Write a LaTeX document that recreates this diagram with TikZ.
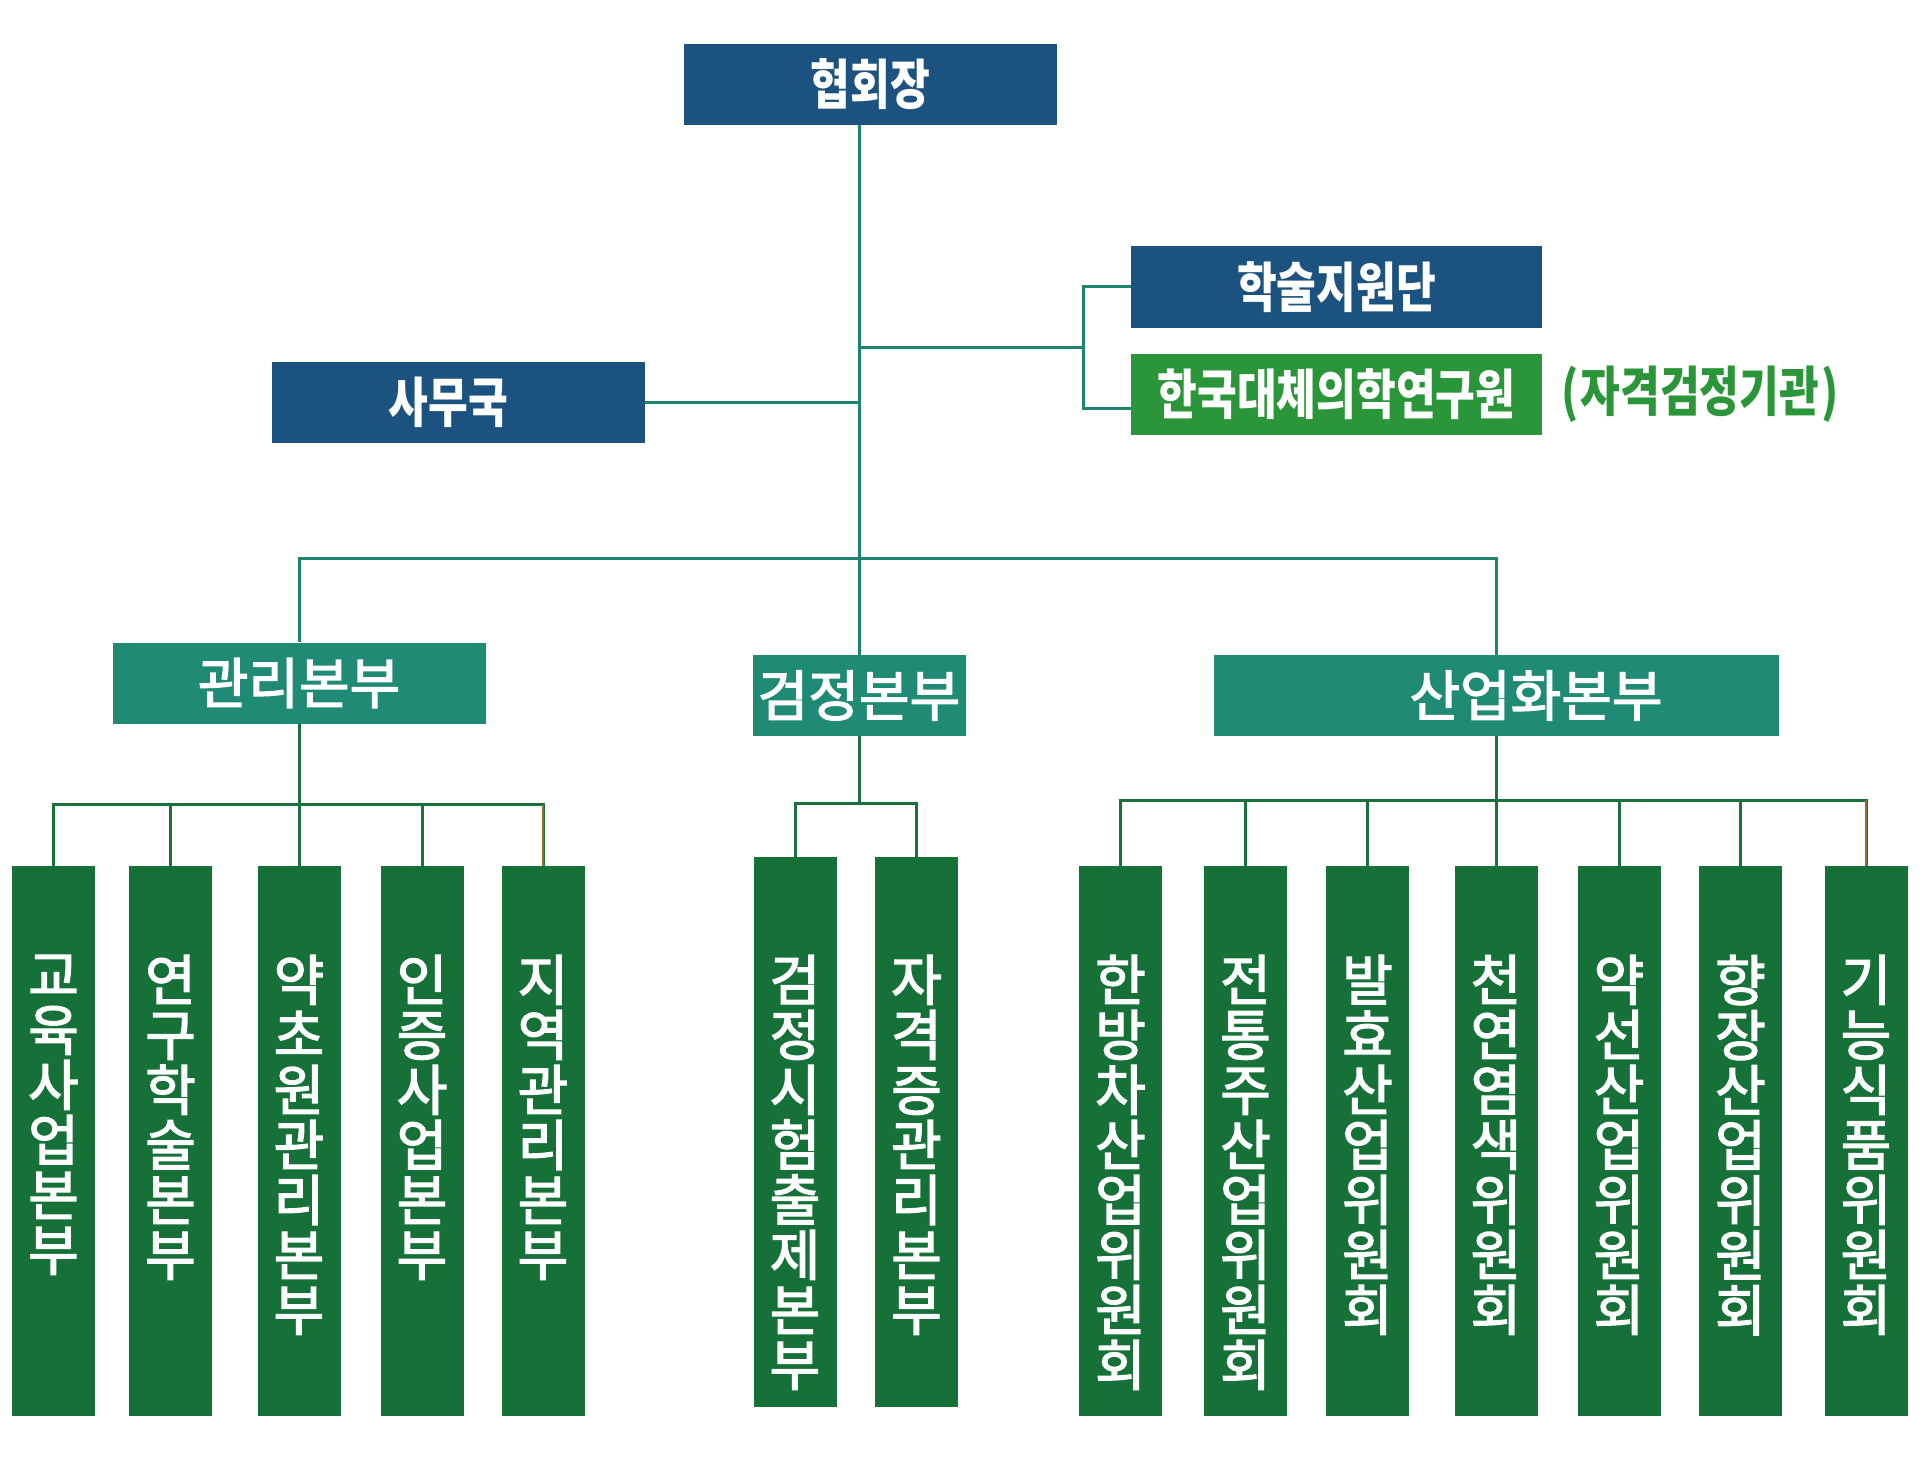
\documentclass[tikz,border=0pt]{standalone}
\usepackage{fontspec}
\newfontfamily\krfont{Noto Sans CJK KR}[FakeBold=2.5]
\newfontfamily\krhead{Noto Sans CJK KR}[FakeStretch=0.8]
\usetikzlibrary{positioning}

\definecolor{chiefblue}{HTML}{1B527F}
\definecolor{deptteal}{HTML}{1F8B75}
\definecolor{unitgreen}{HTML}{157138}
\definecolor{labgreen}{HTML}{2B9639}
\definecolor{linkteal}{HTML}{1E8470}
\definecolor{linkgreen}{HTML}{18703A}
\definecolor{tiebrown}{HTML}{A06A2C}

\newcommand\stackfont{\krfont\fontsize{55}{55}\selectfont\lineskiplimit-100pt\relax}

\begin{document}
\begin{tikzpicture}[
    x=1pt, y=-1pt,
    head/.style={
        rectangle,
        fill=chiefblue,
        text=white,
        minimum width=373pt,
        minimum height=81pt,
        inner sep=0pt,
        font=\krhead\bfseries\fontsize{54}{60}\selectfont
    },
    dept/.style={
        rectangle,
        fill=deptteal,
        text=white,
        minimum height=81pt,
        inner sep=0pt,
        font=\krfont\fontsize{55}{60}\selectfont
    },
    unit/.style={
        rectangle,
        fill=unitgreen,
        minimum width=83pt,
        minimum height=550pt,
        inner sep=0pt
    },
    vtext/.style={
        text=white,
        align=center,
        inner sep=0pt,
        font=\stackfont
    },
    trunk/.style={draw=linkteal, line width=3pt},
    branch/.style={draw=linkgreen, line width=3pt},
    tie/.style={draw=tiebrown, line width=2pt}
]
\useasboundingbox (0,0) rectangle (1920,1479);

% top level
\node[head] (chair) at (870.5,84.5) {협회장};
\node[head] (office) at (458.5,402.5) {\hspace*{-10pt}사무국\hspace*{10pt}};
\node[head, minimum width=411pt, minimum height=82pt] (academic) at (1336.5,287) {학술지원단};
\node[head, fill=labgreen, minimum width=411pt] (institute) at (1336.5,394.5) {한국대체의학연구원};
\node[right=19pt of institute, inner sep=0pt, text=labgreen,
    font=\krhead\bfseries\fontsize{54}{60}\selectfont] (license) {(\hspace{2pt}자격검정기관\hspace{2pt})};

% departments
\node[dept, minimum width=373pt] (mgmt) at (299,683) {관리본부};
\node[dept, minimum width=213pt] (exam) at (859,695.5) {검정본부};
\node[dept, minimum width=565pt] (ind) at (1496,695.5) {\hspace*{80pt}산업화본부};

% units under mgmt
\node[unit] (edu) at (53.5,1141) {};
\node[vtext, below=89pt of edu.north] (edu-t) {교\\육\\사\\업\\본\\부};
\node[unit] (research) at (170.5,1141) {};
\node[vtext, below=89pt of research.north] (research-t) {연\\구\\학\\술\\본\\부};
\node[unit] (herb) at (299,1141) {};
\node[vtext, below=89pt of herb.north] (herb-t) {약\\초\\원\\관\\리\\본\\부};
\node[unit] (cert) at (422,1141) {};
\node[vtext, below=89pt of cert.north] (cert-t) {인\\증\\사\\업\\본\\부};
\node[unit] (region) at (543,1141) {};
\node[vtext, below=89pt of region.north] (region-t) {지\\역\\관\\리\\본\\부};

% units under exam
\node[unit] (test) at (795,1132) {};
\node[vtext, below=98pt of test.north] (test-t) {검\\정\\시\\험\\출\\제\\본\\부};
\node[unit] (licmgmt) at (916.5,1132) {};
\node[vtext, below=98pt of licmgmt.north] (licmgmt-t) {자\\격\\증\\관\\리\\본\\부};

% units under ind
\node[unit] (tea) at (1120.5,1141) {};
\node[vtext, below=89pt of tea.north] (tea-t) {한\\방\\차\\산\\업\\위\\원\\회};
\node[unit] (liquor) at (1245.5,1141) {};
\node[vtext, below=89pt of liquor.north] (liquor-t) {전\\통\\주\\산\\업\\위\\원\\회};
\node[unit] (ferment) at (1367.5,1141) {};
\node[vtext, below=89pt of ferment.north] (ferment-t) {발\\효\\산\\업\\위\\원\\회};
\node[unit] (dye) at (1496,1141) {};
\node[vtext, below=89pt of dye.north] (dye-t) {천\\연\\염\\색\\위\\원\\회};
\node[unit] (diet) at (1619,1141) {};
\node[vtext, below=89pt of diet.north] (diet-t) {약\\선\\산\\업\\위\\원\\회};
\node[unit] (cosme) at (1740.5,1141) {};
\node[vtext, below=89pt of cosme.north] (cosme-t) {향\\장\\산\\업\\위\\원\\회};
\node[unit] (food) at (1866,1141) {};
\node[vtext, below=89pt of food.north] (food-t) {기\\능\\식\\품\\위\\원\\회};

% upper connectors
\draw[trunk] (chair.south -| exam.north) -- (exam.north);
\draw[trunk] (office.east) -- (office.east -| exam.north);
\coordinate (fork) at (1083,348);
\draw[trunk] (fork -| exam.north) -- (fork);
\draw[trunk] (fork) |- (academic.west);
\draw[trunk] (fork) |- ([yshift=-14pt]institute.west);
\draw[trunk] (mgmt.north) -- ++(0,-84) -| (ind.north);

% lower connectors
\draw[branch] (mgmt.south) -- ++(0,81) -| (edu.north);
\draw[branch] (mgmt.south) -- ++(0,81) -| (research.north);
\draw[branch] (mgmt.south) -- (herb.north);
\draw[branch] (mgmt.south) -- ++(0,81) -| (cert.north);
\draw[branch] (mgmt.south) -- ++(0,81) -| (region.north);
\draw[tie] (region.north) -- ++(0,-61);

\draw[branch] (exam.south) -- ++(0,67) -| (test.north);
\draw[branch] (exam.south) -- ++(0,67) -| (licmgmt.north);

\draw[branch] (ind.south) -- ++(0,64) -| (tea.north);
\draw[branch] (ind.south) -- ++(0,64) -| (liquor.north);
\draw[branch] (ind.south) -- ++(0,64) -| (ferment.north);
\draw[branch] (ind.south) -- (dye.north);
\draw[branch] (ind.south) -- ++(0,64) -| (diet.north);
\draw[branch] (ind.south) -- ++(0,64) -| (cosme.north);
\draw[branch] (ind.south) -- ++(0,64) -| (food.north);
\draw[tie] (food.north) -- ++(0,-66);

\end{tikzpicture}
\end{document}
